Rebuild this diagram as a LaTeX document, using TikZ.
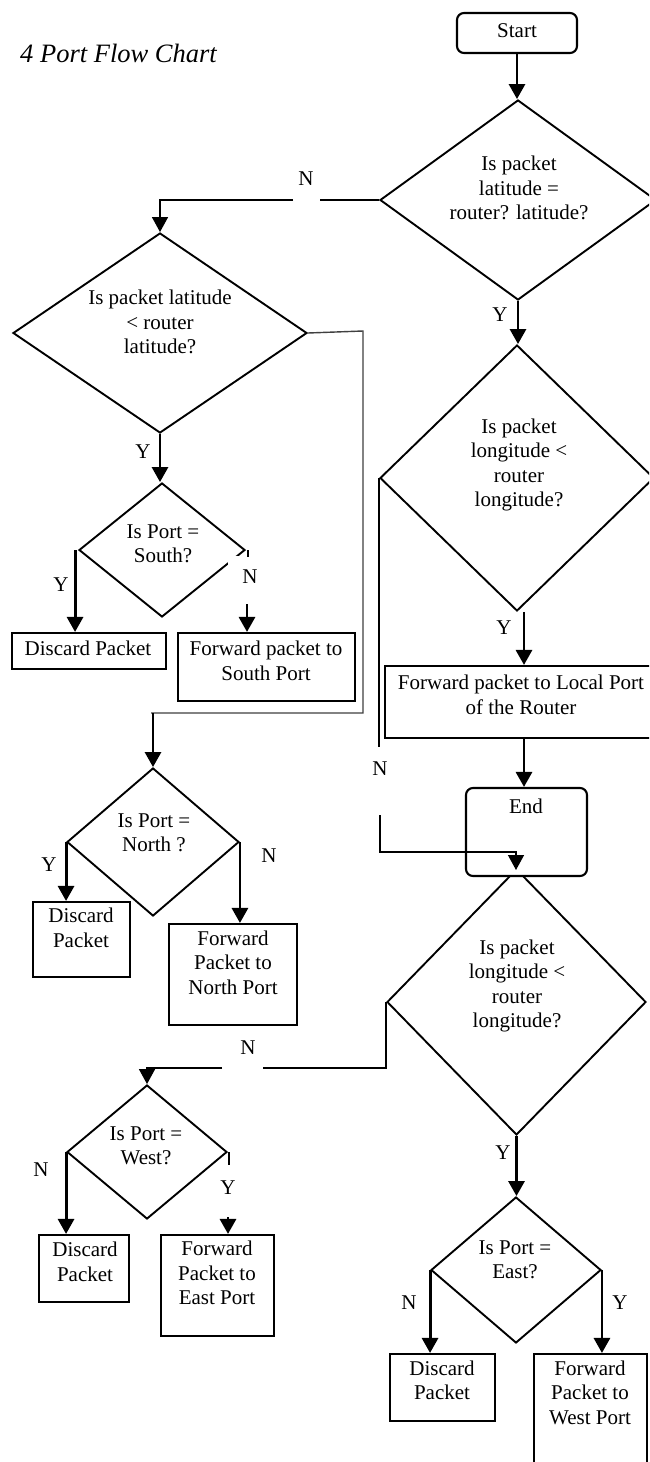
\documentclass[tikz,border=0pt]{standalone}
\usepackage{fontspec}
\setmainfont{Liberation Serif}
\usetikzlibrary{shapes.geometric,arrows.meta}
\begin{document}
\begin{tikzpicture}[x=1pt,y=-1pt,
  txt/.style={font=\fontsize{21}{24.5}\selectfont, align=center, inner sep=0pt},
  dia/.style={draw, shape=diamond, line width=1.9pt, inner sep=0pt},
  box/.style={draw, rectangle, line width=2.1pt, inner sep=0pt},
  term/.style={draw, rectangle, rounded corners=7pt, line width=2.1pt, inner sep=0pt, fill=white},
  arr/.style={line width=2.9pt, -{Triangle[length=15pt,width=16pt]}},
  tarr/.style={line width=1.4pt, -{Triangle[length=15pt,width=16pt]}},
  tline/.style={line width=1.4pt},
  lbl/.style={font=\fontsize{21}{24.5}\selectfont, inner sep=0pt}
]
\fill[white] (0,0) rectangle (649,1462);
\useasboundingbox (0,0) rectangle (649,1462);
\clip (0,0) rectangle (649,1462);

% title
\node[font=\fontsize{26.5}{30}\selectfont\itshape, anchor=base west, inner sep=0pt] (title) at (20,62) {4 Port Flow Chart};

% shapes
\node[term, minimum width=120pt, minimum height=40pt] (start) at (517,33) {};
\node[dia, minimum width=276pt, minimum height=200pt] (d1) at (518,200) {};
\node[dia, minimum width=294pt, minimum height=200pt] (d2) at (160,333) {};
\node[dia, minimum width=166pt, minimum height=134pt] (d3) at (162,550) {};
\node[box, minimum width=154pt, minimum height=36pt] (b1) at (89,651) {};
\node[box, minimum width=177pt, minimum height=68pt] (b2) at (266.5,667) {};
\node[dia, minimum width=172pt, minimum height=148pt] (d4) at (153,842) {};
\node[box, minimum width=97pt, minimum height=75pt] (b4) at (81.5,939.5) {};
\node[box, minimum width=128pt, minimum height=101pt] (b5) at (233,974.5) {};
\node[dia, minimum width=274pt, minimum height=266pt] (d5) at (517,478) {};
\node[box, minimum width=270pt, minimum height=72pt] (b3) at (520,702) {};
\node[dia, minimum width=259pt, minimum height=266pt] (d6) at (516.5,1002) {};
\node[term, minimum width=121pt, minimum height=88pt] (end) at (526.5,832) {};
\node[dia, minimum width=160pt, minimum height=134pt] (d7) at (147,1152) {};
\node[box, minimum width=90pt, minimum height=67pt] (b6) at (84,1268.5) {};
\node[box, minimum width=113pt, minimum height=101pt] (b7) at (217.5,1285.5) {};
\node[dia, minimum width=170pt, minimum height=146pt] (d8) at (516,1270) {};
\node[box, minimum width=105pt, minimum height=67pt] (b8) at (442.5,1387.5) {};
\node[box, minimum width=113pt, minimum height=116pt] (b9) at (590.5,1412) {};

% texts
\node[txt] (startt) at (517,31) {Start};
\node[txt] (d1t) at (519,188) {Is packet\\latitude =\\router? latitude?};
\node[txt] (d2t) at (160,322) {Is packet latitude\\< router\\latitude?};
\node[txt] (d3t) at (163,544) {Is Port =\\South?};
\node[txt] (b1t) at (88,648) {Discard Packet};
\node[txt] (b2t) at (266,661) {Forward packet to\\South Port};
\node[txt] (d4t) at (154,833) {Is Port =\\North ?};
\node[txt] (b4t) at (81,928) {Discard\\Packet};
\node[txt] (b5t) at (233,962.5) {Forward\\Packet to\\North Port};
\node[txt] (d5t) at (519,465) {Is packet\\longitude <\\router\\longitude?};
\node[txt] (b3t) at (521,695) {Forward packet to Local Port\\of the Router};
\node[txt] (endt) at (526,806) {End};
\node[txt] (d6t) at (517,986) {Is packet\\longitude <\\router\\longitude?};
\node[txt] (d7t) at (146,1146) {Is Port =\\West?};
\node[txt] (b6t) at (85,1262) {Discard\\Packet};
\node[txt] (b7t) at (217,1273) {Forward\\Packet to\\East Port};
\node[txt] (d8t) at (515,1260) {Is Port =\\East?};
\node[txt] (b8t) at (442,1380.5) {Discard\\Packet};
\node[txt] (b9t) at (590,1392.5) {Forward\\Packet to\\West Port};

% branch labels
\node[lbl] (n1) at (306,179) {N};
\node[lbl] (y1) at (500,315) {Y};
\node[lbl] (y2) at (143,452) {Y};
\node[lbl] (y3) at (61,585) {Y};
\node[lbl, fill=white, inner xsep=14pt, inner ysep=14pt] (n3) at (250,577) {N};
\node[lbl] (y4) at (49,865) {Y};
\node[lbl] (n4) at (269,856) {N};
\node[lbl] (y5) at (504,628) {Y};
\node[lbl] (n5) at (380,769) {N};
\node[lbl] (n6) at (248,1048) {N};
\node[lbl] (y6) at (503,1153) {Y};
\node[lbl] (n7) at (41,1170) {N};
\node[lbl] (y7) at (228,1188) {Y};
\node[lbl] (n8) at (409,1303) {N};
\node[lbl] (y8) at (620,1303) {Y};

% coordinates for free ends
\coordinate (g1a) at (320,200);
\coordinate (g1b) at (293,200);
\coordinate (r2a) at (363,331);
\coordinate (r2b) at (151,713);
\coordinate (a3) at (247,604);
\coordinate (n5a) at (380,747);
\coordinate (n5b) at (380,815);
\coordinate (n5c) at (516,852);
\coordinate (n5d) at (516,870);
\coordinate (g6a) at (263,1068);
\coordinate (g6b) at (222,1068);
\coordinate (a7) at (228,1217);

% connectors
\draw[arr] (start.south) -- (start.south |- d1.north);
\draw[tline] (d1.west) -- (g1a);
\draw[tarr] (g1b) -| (d2.north);
\draw[arr] (d1.south) -- (d1.south |- d5.north);
\draw[arr] (d2.south) -- (d2.south |- d3.north);
\draw[tline, black!75] (d2.east) -- (r2a) |- (r2b);
\draw[arr] (d4.north |- r2b) -- (d4.north);
\draw[arr] ([xshift=-3pt]d3.west) -- ([xshift=-3pt]d3.west |- b1.north);
\draw[line width=2.9pt] ([xshift=2pt]d3.east) -- ++(0,7);
\draw[arr] (a3) -- (a3 |- b2.north);
\draw[arr] (d4.west) -- (d4.west |- b4.north);
\draw[arr] (d4.east) -- (d4.east |- b5.north);
\draw[arr] ([xshift=7pt]d5.south) -- ([xshift=7pt]d5.south |- b3.north);
\draw[arr] ([xshift=-2.5pt]end.north |- b3.south) -- ([xshift=-2.5pt]end.north);
\draw[tline] (d5.west) -- (d5.west |- n5a);
\draw[tarr] (n5b) |- (n5c) -- (n5d);
\draw[tline] (d6.west) |- (g6a);
\draw[tarr] (g6b) -| (d7.north);
\draw[arr] (d6.south) -- (d6.south |- d8.north);
\draw[arr] (d7.west) -- (d7.west |- b6.north);
\draw[line width=2.9pt] ([xshift=1pt]d7.east) -- ++(0,13);
\draw[arr] (a7) -- (a7 |- b7.north);
\draw[arr] (d8.west) -- (d8.west |- b8.north);
\draw[arr] (d8.east) -- (d8.east |- b9.north);
\end{tikzpicture}
\end{document}
